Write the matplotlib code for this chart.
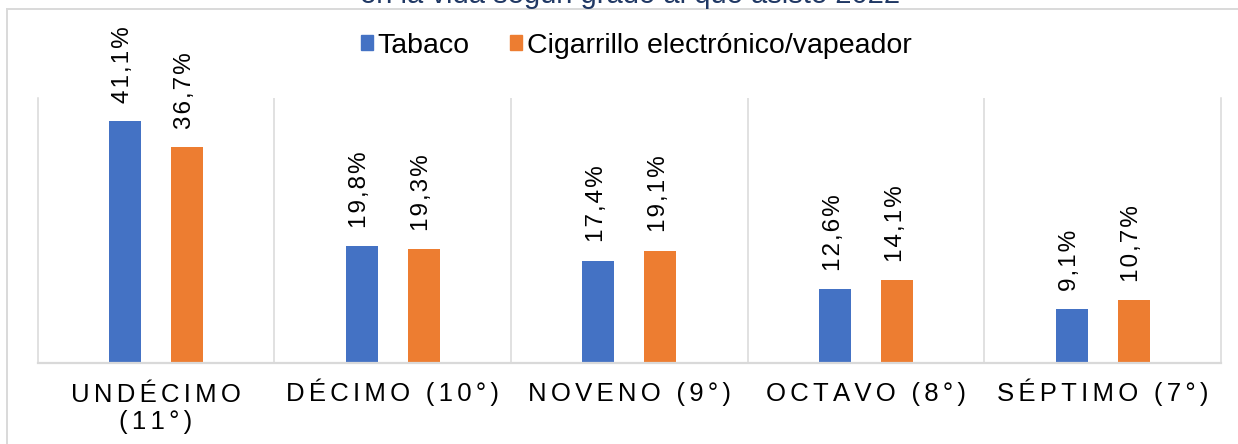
import numpy as np
import matplotlib
matplotlib.use("Agg")
import matplotlib.pyplot as plt
from matplotlib.lines import Line2D
from matplotlib.patches import Patch

plt.rcParams['font.family'] = ['Liberation Sans', 'DejaVu Sans']

# prevalencia de consumo en la vida, por grado
grados = ["UNDÉCIMO\n(11°)", "DÉCIMO (10°)", "NOVENO (9°)", "OCTAVO (8°)", "SÉPTIMO (7°)"]
tabaco = [41.1, 19.8, 17.4, 12.6, 9.1]
vapeador = [36.7, 19.3, 19.1, 14.1, 10.7]
series = ["Tabaco", "Cigarrillo electrónico/vapeador"]
titulo = "en la vida según grado al que asiste 2022"

AZUL = "#4472C4"
NARANJA = "#ED7D31"
GRIS = "#D9D9D9"
HAIR = "\u200a"


def espaciado(s, n=1):
    # separacion extra entre letras con espacios finos
    return "\n".join((HAIR * n).join(linea) for linea in s.split("\n"))


def pct(v):
    return f"{v:.1f}%".replace(".", ",")


fig = plt.figure(figsize=(12.38, 4.44), dpi=100)
ax = fig.add_axes([37.5 / 1238, 1 - 363 / 444, (1221 - 37.5) / 1238, (363 - 98) / 444])

x = np.arange(len(grados))
ancho = 0.135
desp = 0.131
b1 = ax.bar(x - desp, tabaco, ancho, color=AZUL)
b2 = ax.bar(x + desp, vapeador, ancho, color=NARANJA)

for barras, vals in ((b1, tabaco), (b2, vapeador)):
    for rect, v in zip(barras, vals):
        ax.annotate(espaciado(pct(v)), (rect.get_x() + rect.get_width() / 2, v),
                    xytext=(-1, 13), textcoords="offset points",
                    rotation=90, ha="center", va="bottom", fontsize=17.5)

ax.set_xlim(-0.5, len(grados) - 0.5)
ax.set_ylim(0, 45)
ax.set_yticks([])
ax.set_xticks([])

# etiquetas de categoria; va="baseline" alinea la ultima linea
paso = 20.2
for xi, g in zip(x, grados):
    ax.annotate(espaciado(g, 2), (xi, 0), xycoords=("data", "axes fraction"),
                xytext=(0, -27 - paso * g.count("\n")), textcoords="offset points",
                ha="center", va="baseline", multialignment="center",
                fontsize=18.5, linespacing=1.15, annotation_clip=False)

for sep in np.arange(0.5, len(grados) - 0.5):
    ax.axvline(sep, color=GRIS, lw=1.1, zorder=0)
ax.spines["top"].set_visible(False)
for lado in ("left", "right"):
    ax.spines[lado].set_color(GRIS)
    ax.spines[lado].set_linewidth(1.1)
ax.spines["bottom"].set_color(GRIS)
ax.spines["bottom"].set_linewidth(1.6)

handles = [Patch(color=AZUL), Patch(color=NARANJA)]
fig.legend(handles, series, loc="center", bbox_to_anchor=(636 / 1238, 1 - 46 / 444),
           ncol=2, frameon=False, fontsize=20.5, handlelength=0.42, handleheight=0.42,
           handletextpad=0.15, columnspacing=1.45, borderpad=0, borderaxespad=0)

# titulo recortado en la parte superior
fig.text(630 / 1238, 1 - 3 / 444, titulo, ha="center", va="baseline",
         fontsize=21, color="#203864")

# borde del area del grafico
y0 = 1 - 9 / 444
x0 = 7 / 1238
fig.add_artist(Line2D([x0, x0], [0, y0], color=GRIS, lw=1.4, transform=fig.transFigure))
fig.add_artist(Line2D([x0, 1.01], [y0, y0], color=GRIS, lw=1.4, transform=fig.transFigure))

fig.savefig("out.png", dpi=100)
